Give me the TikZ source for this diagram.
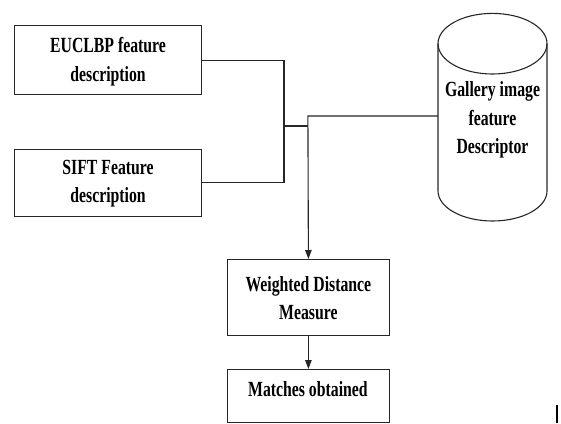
\documentclass[tikz,border=0pt]{standalone}
\usepackage{fontspec}
\setmainfont{Liberation Serif}[FakeStretch=0.73]
\usetikzlibrary{arrows.meta}
\begin{document}
\begin{tikzpicture}[x=1pt,y=-1pt,
  box/.style={draw=black!85, line width=1.1pt, inner sep=0pt, anchor=north west},
  txt/.style={font=\fontsize{21.6}{28.5}\selectfont\bfseries, align=center, inner sep=0pt},
  conn/.style={draw=black!85, line width=1.1pt},
  arr/.style={conn, -{Triangle[length=9pt,width=6.5pt]}}]
\useasboundingbox (0,0) rectangle (561,423);
% boxes
\node[box, minimum width=187pt, minimum height=69pt] (eu) at (14,25) {};
\node[txt] (eut) at ([yshift=-1.5pt]eu.center) {EUCLBP feature\\description};
\node[box, minimum width=187pt, minimum height=67pt] (sf) at (14,148.5) {};
\node[txt] (sft) at ([yshift=-1pt]sf.center) {SIFT Feature\\description};
\node[box, minimum width=162.3pt, minimum height=76pt] (wd) at (226.7,259) {};
\node[txt] (wdt) at ([yshift=-0.5pt]wd.center) {Weighted Distance\\Measure};
\node[box, minimum width=162.3pt, minimum height=52.5pt] (m) at (226.7,369) {};
\node[txt] (mt) at (307.9,389) {Matches obtained};
% cylinder
\draw[conn] (492.5,43.7) ellipse [x radius=54.5pt, y radius=30.3pt];
\draw[conn] (547,43.7) -- (547,191) arc[start angle=0, end angle=-180, x radius=54.5pt, y radius=30pt] -- (438,43.7);
\node[txt] (gal) at (492.5,120) {Gallery image\\feature\\Descriptor};
\coordinate (cylL) at (438,116);
% connectors
\coordinate (j1) at (284,126);
\coordinate (j2) at (307.9,126);
\coordinate (j3) at (307.9,116);
\draw[conn] (eu.east) -- (284,0 |- eu.east) -- (284,0 |- sf.east) -- (sf.east);
\draw[conn] (j1) -- (j2);
\draw[arr] (cylL) -- (j3) -- (wd.north);
\draw[arr] (wd.south) -- (m.north);
% cursor mark
\draw[line width=1.5pt] (557,405) -- (557,423);
\end{tikzpicture}
\end{document}
